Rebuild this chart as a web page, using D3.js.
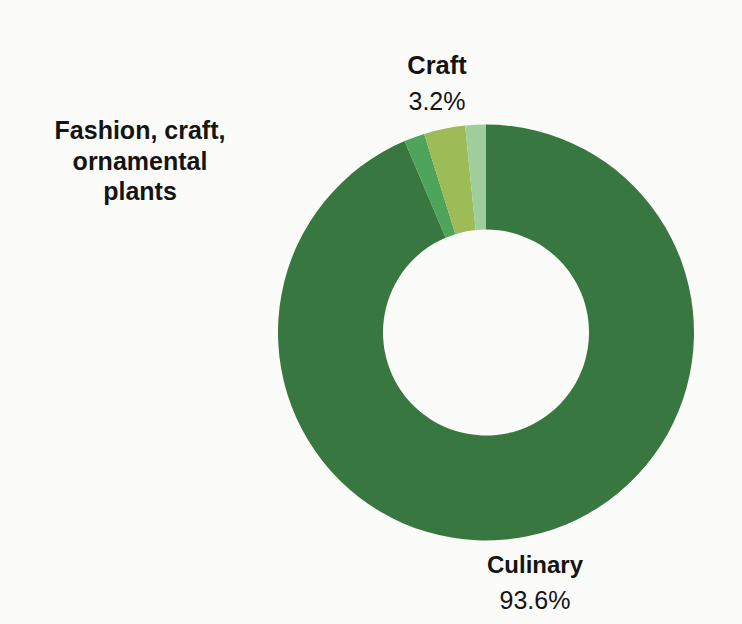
<!DOCTYPE html>
<html>
<head>
<meta charset="utf-8">
<script src="https://cdn.jsdelivr.net/npm/d3@7"></script>
<style>
  html, body { margin: 0; padding: 0; background: #fbfbf9; }
  svg { display: block; }
  text { font-family: "Liberation Sans", Arial, sans-serif; fill: #141414; }
</style>
</head>
<body>
<svg id="chart" width="742" height="624"></svg>
<script>
// Share of uses, clockwise from 12 o'clock
const categories = ["Culinary", "Fashion, craft, ornamental plants", "Craft", "Other"];
const shares = [93.6, 1.6, 3.2, 1.6];
const colors = ["#38773f", "#4da45a", "#9dbb56", "#9fce9b"];

// Which slices carry a label, how the name wraps, and whether the share is printed
const labelLines = [["Culinary"], ["Fashion, craft,", "ornamental", "plants"], ["Craft"], []];
const showShare = [true, false, true, false];

const width = 742, height = 624;
const cx = 486, cy = 332.5;
const outerR = 208, innerR = 103;

// Label anchors (centre x, first baseline y, name font size) for each labelled slice
const labelPos = [
  { x: 535, y: 573, size: 24 },
  { x: 140, y: 139, size: 25 },
  { x: 437, y: 74, size: 25.5 },
  null
];

const svg = d3.select("#chart");
const data = categories.map((c, i) => ({ name: c, value: shares[i], color: colors[i], i }));

const pie = d3.pie().value(d => d.value).sort(null).startAngle(0).endAngle(2 * Math.PI);
const arc = d3.arc().innerRadius(innerR).outerRadius(outerR);

const g = svg.append("g").attr("transform", `translate(${cx},${cy})`);
g.selectAll("path")
  .data(pie(data))
  .join("path")
  .attr("d", arc)
  .attr("fill", d => d.data.color);

const fmt = d3.format(".1f");
const labels = svg.append("g");
data.forEach((d, i) => {
  const pos = labelPos[i];
  if (!pos || labelLines[i].length === 0) return;
  const t = labels.append("text")
    .attr("x", pos.x)
    .attr("y", pos.y)
    .attr("text-anchor", "middle");
  const lineH = 30.5;
  labelLines[i].forEach((ln, k) => {
    t.append("tspan")
      .attr("x", pos.x)
      .attr("y", pos.y + k * lineH)
      .attr("font-weight", "bold")
      .attr("font-size", pos.size)
      .text(ln);
  });
  if (showShare[i]) {
    labels.append("text")
      .attr("x", pos.x)
      .attr("y", pos.y + 35.5)
      .attr("text-anchor", "middle")
      .attr("font-size", 25)
      .text(fmt(d.value) + "%");
  }
});
</script>
</body>
</html>
